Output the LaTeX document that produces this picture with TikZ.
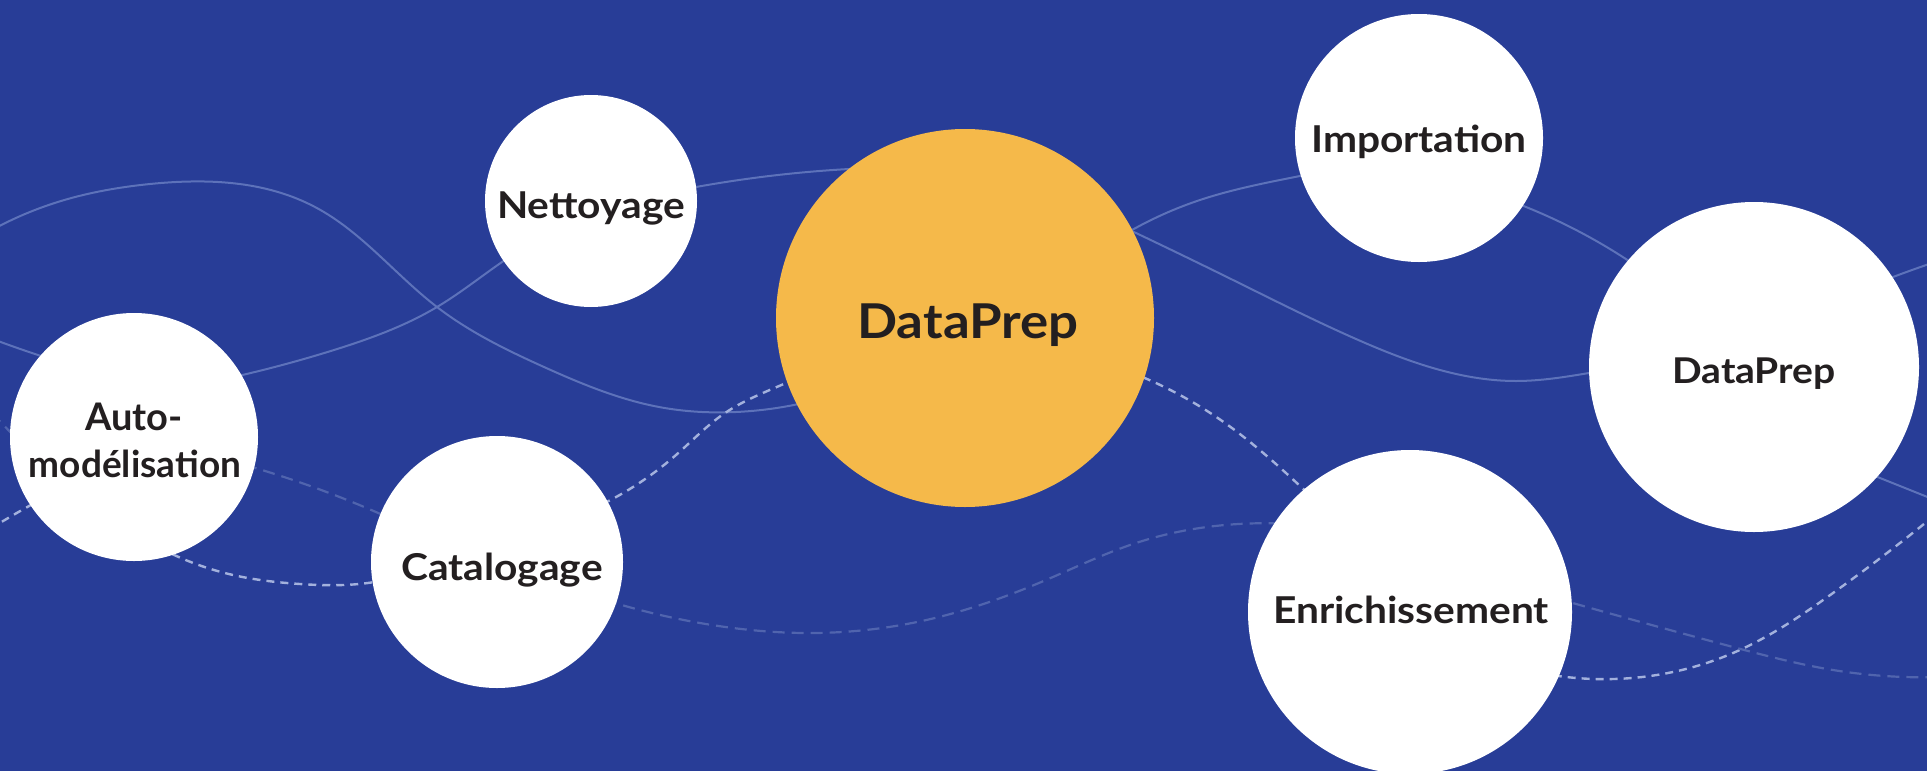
\documentclass[tikz,border=0pt]{standalone}
\usepackage{fontspec}
\setmainfont{Lato}
\newfontfamily\lblfont{Lato}[FakeStretch=1.1]
\usetikzlibrary{hobby}
\definecolor{bg}{HTML}{283D97}
\definecolor{orng}{HTML}{F5B94A}
\definecolor{ink}{HTML}{231F20}
\definecolor{solidln}{HTML}{5D72BA}
\definecolor{brightdash}{HTML}{A3B1DD}
\definecolor{dimdash}{HTML}{5064AE}
\tikzset{
  bubble/.style={circle, fill=white, draw=none, inner sep=0pt},
  hub/.style={circle, fill=orng, draw=none, inner sep=0pt},
  lbl/.style={text=ink, font=\lblfont\bfseries\fontsize{37}{40}\selectfont, inner sep=0pt, anchor=base},
  wave/.style={solidln, line width=2pt, use Hobby shortcut},
  brightwave/.style={brightdash, line width=2.4pt, dash pattern=on 8pt off 6pt, use Hobby shortcut},
  dimwave/.style={dimdash, line width=2.2pt, dash pattern=on 12pt off 7pt, use Hobby shortcut},
}
\begin{document}
\begin{tikzpicture}[x=1pt,y=-1pt]
\useasboundingbox (0,0) rectangle (1927,771);
\clip (0,0) rectangle (1927,771);
\fill[bg] (0,0) rectangle (1927,771);

% solid curve A
\draw[wave] (-10,231) .. (61,201) .. (150,184) .. (315,207) .. (437,307) .. (544,367) .. (659,407) .. (736,412) .. (830,396);
\draw[wave] (1100,216) .. (1233,280) .. (1356,339) .. (1440,370) .. (1516,381) .. (1589,373) .. (1630,366);
\draw[wave] (1860,290) .. (1893,277) .. (1935,262);
% solid curve B
\draw[wave] (-10,338) .. (38,355) .. (60,362);
\draw[wave] (220,380) .. (334,350) .. (437,307) .. (502,262) .. (520,250);
\draw[wave] (680,190) .. (800,172.7) .. (870,168);
\draw[wave] (1100,250) .. (1200,200) .. (1300,176) .. (1320,172);
\draw[wave] (1505,199) .. (1578,231) .. (1645,272);
\draw[wave] (1860,470) .. (1935,500);

% bright dashed curve C
\draw[brightwave] (-10,529) .. (22,510) .. (40,500);
\draw[brightwave] (160,548) .. (233,575) .. (300,584) .. (370,582.7) .. (385,580);
\draw[brightwave] (590,510) .. (676,455) .. (725,413) .. (786,383) .. (810,372);
\draw[brightwave] (1130,372) .. (1225,423) .. (1299,485) .. (1315,500);
\draw[brightwave] (1540,673) .. (1614,679) .. (1733,653) .. (1833,593) .. (1940,511);

% dim dashed curve D
\draw[dimwave] (-8,413) .. (14,436);
\draw[dimwave] (245,465) .. (313,487) .. (385,516);
\draw[dimwave] (605,600) .. (712,625) .. (814,633) .. (939,617) .. (1046,580) .. (1136,543) .. (1225,525) .. (1290,524);
\draw[dimwave] (1555,598) .. (1733,647) .. (1833,670) .. (1940,677);

% circles
\node[bubble, minimum size=212pt] (net) at (591,201) {};
\node[hub, minimum size=378pt] (hub) at (965,318) {};
\node[bubble, minimum size=248pt] (imp) at (1419,138) {};
\node[bubble, minimum size=330pt] (dpr) at (1754,367) {};
\node[bubble, minimum size=324pt] (enr) at (1410,612) {};
\node[bubble, minimum size=248pt] (auto) at (134,437) {};
\node[bubble, minimum size=252pt] (cat) at (497,562) {};

% labels
\node[lbl] (tnet) at (591,218) {Nettoyage};
\node[lbl, font=\lblfont\bfseries\fontsize{48}{52}\selectfont] (thub) at (968,338) {DataPrep};
\node[lbl] (timp) at (1419,152) {Importation};
\node[lbl, font=\lblfont\bfseries\fontsize{35.5}{40}\selectfont] (tdpr) at (1754,383) {DataPrep};
\node[lbl] (tenr) at (1411,623) {Enrichissement};
\node[lbl] (tcat) at (502,580) {Catalogage};
\node[lbl, font=\bfseries\fontsize{38}{40}\selectfont] (tauto1) at (134,430) {Auto-};
\node[lbl, font=\bfseries\fontsize{37}{40}\selectfont] (tauto2) at (135,477) {modélisation};
\end{tikzpicture}
\end{document}
